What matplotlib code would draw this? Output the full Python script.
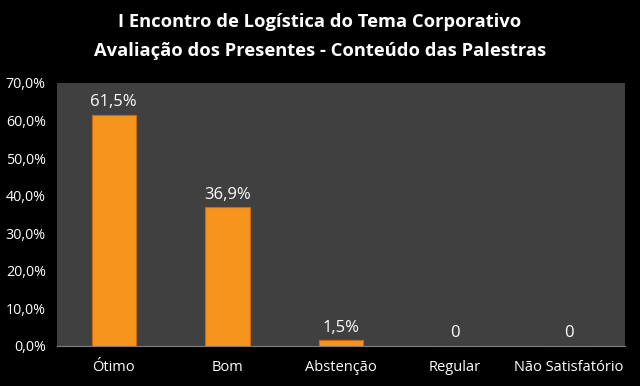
import numpy as np
import matplotlib
matplotlib.use("Agg")
from matplotlib import pyplot as plt
from matplotlib.ticker import FuncFormatter

categories = ["Ótimo", "Bom", "Abstenção", "Regular", "Não Satisfatório"]
values = [61.5, 36.9, 1.5, 0, 0]
value_labels = ["61,5%", "36,9%", "1,5%", "0", "0"]
title_lines = ["I Encontro de Logística do Tema Corporativo",
               "Avaliação dos Presentes - Conteúdo das Palestras"]

plt.rcParams['font.family'] = ['Open Sans', 'DejaVu Sans']

fig = plt.figure(figsize=(6.4, 3.86), dpi=100, facecolor="black")
ax = fig.add_axes([0.089, 0.104, 0.888, 0.681])
ax.set_facecolor("#404040")

x = np.arange(len(categories))
bars = ax.bar(x, values, width=0.39, color="#F7941D", edgecolor="#C96A0E", linewidth=0.8)

for xi, v, lab in zip(x, values, value_labels):
    ax.text(xi, v + 1.2, lab, ha="center", va="bottom", color="white", fontsize=12)

ax.set_xlim(-0.5, len(categories) - 0.5)
ax.set_ylim(0, 70)
ax.set_yticks(np.arange(0, 71, 10))
ax.yaxis.set_major_formatter(FuncFormatter(lambda v, p: f"{v:.1f}%".replace(".", ",")))
ax.set_xticks(x)
ax.set_xticklabels(categories)
ax.tick_params(colors="white", labelsize=10.3, length=0)
ax.tick_params(axis="y", pad=8)
ax.tick_params(axis="x", labelsize=10.5, pad=10)
for side in ["top", "right", "left"]:
    ax.spines[side].set_visible(False)
ax.spines["bottom"].set_color("#808080")

fig.text(0.5, 0.943, title_lines[0], ha="center", va="center", color="white",
         fontsize=13.2, fontweight="bold")
fig.text(0.5, 0.869, title_lines[1], ha="center", va="center", color="white",
         fontsize=13.2, fontweight="bold")

fig.savefig("out.png", dpi=100, facecolor="black")
